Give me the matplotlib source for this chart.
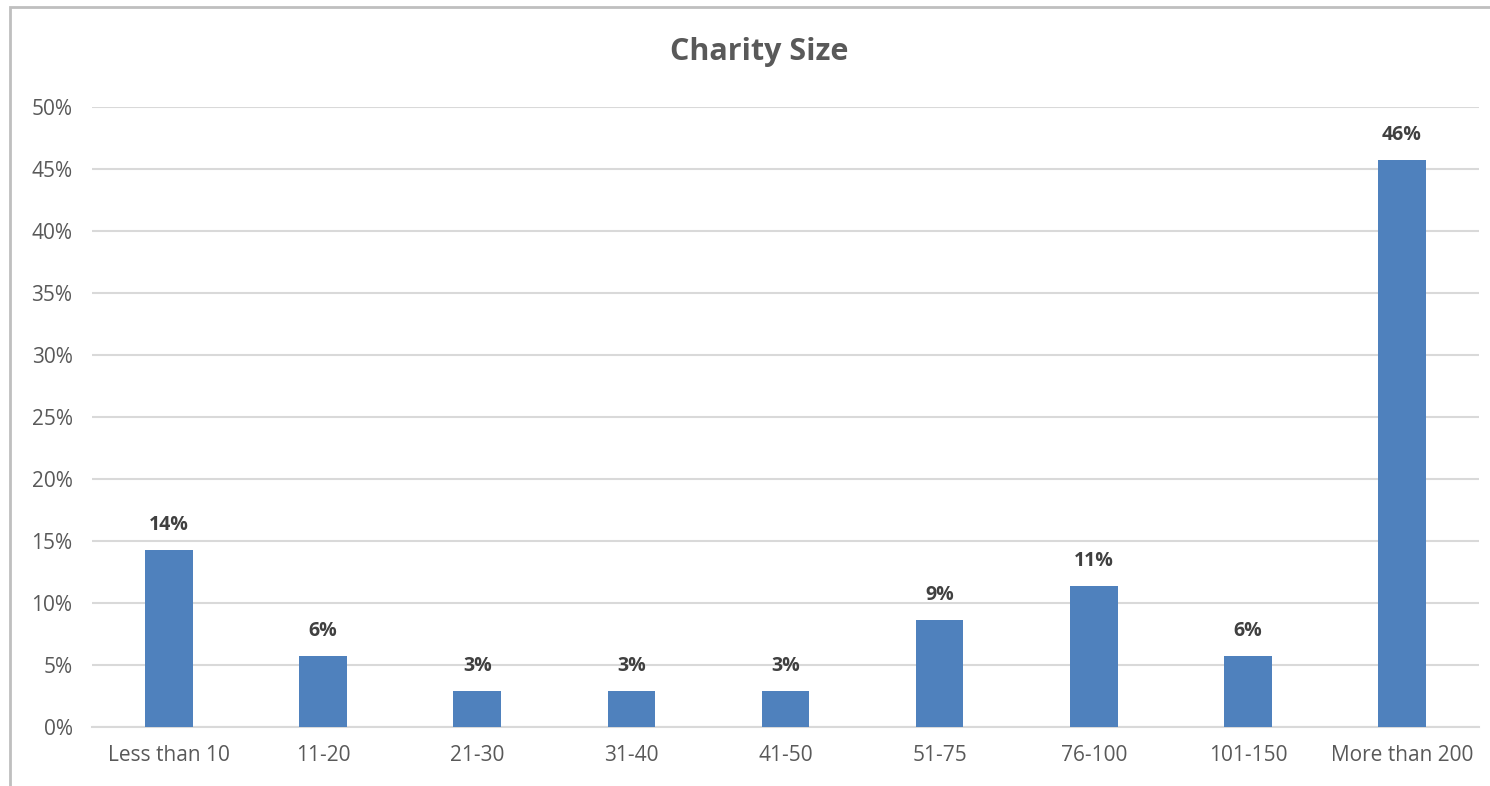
import numpy as np
import matplotlib.pyplot as plt
from matplotlib.patches import Rectangle
from matplotlib.ticker import PercentFormatter

categories = ['Less than 10', '11-20', '21-30', '31-40', '41-50', '51-75', '76-100', '101-150', 'More than 200']
shares = [14.3, 5.7, 2.9, 2.9, 2.9, 8.6, 11.4, 5.7, 45.7]  # percent of respondents

plt.rcParams['font.family'] = ['Open Sans', 'DejaVu Sans']

fig = plt.figure(figsize=(14.9, 7.86), dpi=100)
ax = fig.add_axes([92 / 1490, 59 / 786, 1387 / 1490, 620 / 786])

x = np.arange(len(categories))
ax.bar(x, shares, width=0.31, color='#4f81bd', zorder=3)
for xi, v in zip(x, shares):
    ax.text(xi, v + 1.2, f'{v:.0f}%', ha='center', va='bottom', fontsize=14,
            fontweight='bold', color='#404040')

ax.set_xlim(-0.5, len(categories) - 0.5)
ax.set_ylim(0, 50)
ax.set_yticks(np.arange(0, 51, 5))
ax.yaxis.set_major_formatter(PercentFormatter(decimals=0))
ax.set_xticks(x)
ax.set_xticklabels(categories)
ax.tick_params(axis='both', length=0, labelsize=15, labelcolor='#595959')
ax.tick_params(axis='y', pad=14)
ax.tick_params(axis='x', pad=13)
ax.grid(axis='y', color='#d9d9d9', linewidth=1.5, zorder=0)
for s in ['top', 'right', 'left']:
    ax.spines[s].set_visible(False)
ax.spines['bottom'].set_color('#d9d9d9')
ax.spines['bottom'].set_linewidth(1.5)

fig.text(759 / 1490, 1 - 52 / 786, 'Charity Size', ha='center', va='center',
         fontsize=22, fontweight='bold', color='#595959')

# chart border (cropped on right and bottom)
fig.patches.append(Rectangle((10 / 1490, -0.1), 1.2, 1 - 7 / 786 + 0.1, transform=fig.transFigure,
                             fill=False, edgecolor='#bfbfbf', linewidth=2))

fig.savefig('out.png', dpi=100)
